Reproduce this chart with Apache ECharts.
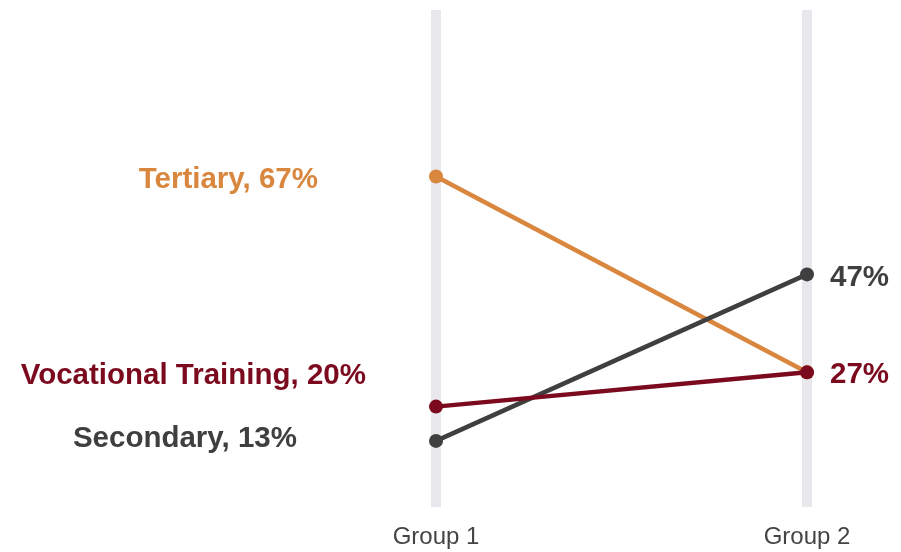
<!DOCTYPE html>
<html>
<head>
<meta charset="utf-8">
<script src="https://cdn.jsdelivr.net/npm/echarts@6/dist/echarts.min.js"></script>
<style>
  html, body { margin: 0; padding: 0; background: #ffffff; }
  #chart { width: 901px; height: 552px; }
</style>
</head>
<body>
<div id="chart"></div>
<script>
// Share of each education level in the two groups (percent)
const groups = ['Group 1', 'Group 2'];
const levels = ['Tertiary', 'Vocational Training', 'Secondary'];
const tertiary = [67, 27];
const vocational = [20, 27];
const secondary = [13, 47];

const colors = {
  'Tertiary': '#D9873E',
  'Vocational Training': '#7C0A1E',
  'Secondary': '#3F3F3F'
};

// Shift of the start labels (relative to their point) so they do not collide
const startLabelShift = {
  'Tertiary': [-118, 3],
  'Vocational Training': [-70, -31],
  'Secondary': [-139, -2]
};
// Only these series carry a value label at the right end
const showEndLabel = { 'Tertiary': false, 'Vocational Training': true, 'Secondary': true };

const valuesByLevel = {
  'Tertiary': tertiary,
  'Vocational Training': vocational,
  'Secondary': secondary
};

const FONT = '"Liberation Sans", Arial, Helvetica, sans-serif';

const series = levels.map(function (name) {
  const vals = valuesByLevel[name];
  const c = colors[name];
  return {
    name: name,
    type: 'line',
    symbol: 'circle',
    symbolSize: 14,
    z: name === 'Vocational Training' ? 4 : (name === 'Secondary' ? 3 : 2),
    lineStyle: { width: 4.5, color: c },
    itemStyle: { color: c },
    emphasis: { disabled: true },
    data: vals.map(function (v, i) {
      const lbl = i === 0
        ? {
            show: true,
            position: 'left',
            distance: 0,
            formatter: name + ', ' + v + '%'
          }
        : {
            show: showEndLabel[name],
            position: 'right',
            distance: 16,
            formatter: v + '%'
          };
      return { value: v, label: lbl };
    }),
    label: {
      color: c,
      fontFamily: FONT,
      fontWeight: 'bold',
      fontSize: 29.5
    },
    labelLayout: function (params) {
      if (params.dataIndex === 0) {
        const s = startLabelShift[name];
        return { dx: s[0] + 7, dy: s[1], hideOverlap: false };
      }
      return { dx: 0, dy: 3, hideOverlap: false };
    }
  };
});

const chart = echarts.init(document.getElementById('chart'), null, { renderer: 'canvas' });
chart.setOption({
  animation: false,
  backgroundColor: '#ffffff',
  grid: { left: 436, right: 94, top: 10, bottom: 45, containLabel: false },
  xAxis: {
    type: 'category',
    data: groups,
    boundaryGap: false,
    axisLine: { show: false },
    axisTick: { show: false },
    axisLabel: {
      color: '#444444',
      fontFamily: FONT,
      fontSize: 24,
      margin: 18,
      interval: 0
    },
    splitLine: {
      show: true,
      interval: 0,
      lineStyle: { color: '#E8E8EC', width: 10 }
    }
  },
  yAxis: {
    type: 'value',
    min: -0.5,
    max: 101,
    show: false,
    splitLine: { show: false }
  },
  legend: { show: false },
  tooltip: { show: false },
  series: series
});
</script>
</body>
</html>
